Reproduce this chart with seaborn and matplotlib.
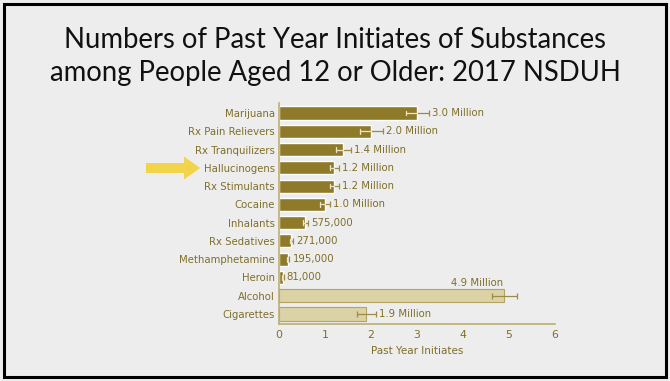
import numpy as np
import pandas as pd
import matplotlib.pyplot as plt
import seaborn as sns
from matplotlib.patches import Rectangle, FancyArrow

# data
categories = ['Marijuana', 'Rx Pain Relievers', 'Rx Tranquilizers', 'Hallucinogens',
              'Rx Stimulants', 'Cocaine', 'Inhalants', 'Rx Sedatives',
              'Methamphetamine', 'Heroin', 'Alcohol', 'Cigarettes']
values = [3.0, 2.0, 1.4, 1.2, 1.2, 1.0, 0.575, 0.271, 0.195, 0.081, 4.9, 1.9]
errors = [0.25, 0.25, 0.16, 0.1, 0.1, 0.1, 0.05, 0.04, 0.03, 0.02, 0.27, 0.2]
value_labels = ['3.0 Million', '2.0 Million', '1.4 Million', '1.2 Million', '1.2 Million',
                '1.0 Million', '575,000', '271,000', '195,000', '81,000',
                '4.9 Million', '1.9 Million']
group = ['illicit'] * 10 + ['legal'] * 2
x_ticks = [0, 1, 2, 3, 4, 5, 6]

BG = '#ededed'
DARK = '#8f7a2a'
LIGHT = '#dbd2a6'
TEXT = '#7f6e27'
LINE = '#bcae72'
ERR = '#9c8b45'
ERR_IN = '#ece4c2'

df = pd.DataFrame({'substance': categories, 'initiates': values, 'group': group})

sns.set_style('white')
plt.rcParams['font.family'] = ['Liberation Sans Narrow', 'DejaVu Sans']

fig = plt.figure(figsize=(6.7, 3.81), dpi=100, facecolor=BG)
ax = fig.add_axes([279 / 670, 57 / 381, 276 / 670, 221 / 381])
ax.set_facecolor(BG)

sns.barplot(data=df, x='initiates', y='substance', hue='group', dodge=False,
            palette={'illicit': DARK, 'legal': LIGHT}, orient='h', width=0.72,
            saturation=1, legend=False, ax=ax)
for bar in ax.patches:
    if np.allclose(bar.get_facecolor()[:3], plt.matplotlib.colors.to_rgb(LIGHT)):
        bar.set_edgecolor('#b3a465')
        bar.set_linewidth(0.8)

# error bars: part inside dark bars is light, outside is olive
ypos = np.arange(len(categories))
ax.errorbar(values, ypos, xerr=errors, fmt='none', ecolor=ERR,
            elinewidth=0.9, capsize=2.2, capthick=0.9)
for y, v, e, g in zip(ypos, values, errors, group):
    if g == 'illicit':
        ax.plot([v - e, v], [y, y], color=ERR_IN, lw=0.9)
        ax.plot([v - e, v - e], [y - 0.13, y + 0.13], color=ERR_IN, lw=0.9)

# value labels
for y, v, e, lab in zip(ypos, values, errors, value_labels):
    if lab == '4.9 Million':
        ax.text(v - 0.02, y - 0.72, lab, color=TEXT, fontsize=7.3, ha='right', va='center')
    else:
        ax.text(v + e + 0.07, y, lab, color=TEXT, fontsize=7.3, ha='left', va='center')

ax.set_xlim(0, 6)
ax.set_ylim(11.55, -0.55)
ax.set_xticks(x_ticks)
ax.set_xticklabels([str(t) for t in x_ticks])
ax.tick_params(axis='both', length=0, colors=TEXT, labelsize=7.3)
ax.tick_params(axis='x', pad=4, labelsize=7.8)
ax.tick_params(axis='y', pad=3)
ax.set_ylabel('')
ax.set_xlabel('Past Year Initiates', color=TEXT, fontsize=7.5, labelpad=5)
for side in ['top', 'right']:
    ax.spines[side].set_visible(False)
for side in ['left', 'bottom']:
    ax.spines[side].set_color(LINE)
    ax.spines[side].set_linewidth(1.2)

# yellow arrow pointing at Hallucinogens
fig.add_artist(FancyArrow(146 / 670, 1 - 168 / 381, 54 / 670, 0, width=10 / 381,
                          head_width=23 / 381, head_length=16 / 670,
                          length_includes_head=True, color='#f2d44a', lw=0,
                          transform=fig.transFigure))

# title
fig.text(0.5, 1 - 40 / 381, 'Numbers of Past Year Initiates of Substances',
         ha='center', va='center', fontsize=19.8, family=['Lato', 'DejaVu Sans'], color='#111111')
fig.text(0.5, 1 - 73 / 381, 'among People Aged 12 or Older: 2017 NSDUH',
         ha='center', va='center', fontsize=19.8, family=['Lato', 'DejaVu Sans'], color='#111111')

# slide border
fig.add_artist(Rectangle((4 / 670, 4 / 381), 662 / 670, 373 / 381, fill=False,
                         edgecolor='black', lw=2.2, transform=fig.transFigure))

fig.savefig('out.png', dpi=100, facecolor=BG)
